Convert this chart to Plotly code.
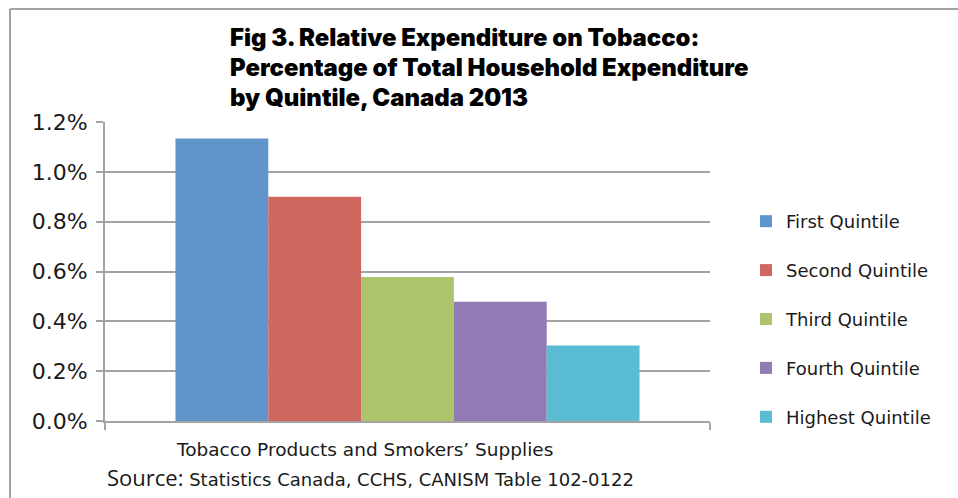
import plotly.graph_objects as go

categories = ["Tobacco Products and Smokers\u2019 Supplies"]
series_names = ["First Quintile", "Second Quintile", "Third Quintile", "Fourth Quintile", "Highest Quintile"]
series_values = [0.01134, 0.00900, 0.00578, 0.00479, 0.00303]
colors = ["#6095CB", "#CD6760", "#ADC46D", "#917BB4", "#59BCD3"]
y_ticks = [0, 0.002, 0.004, 0.006, 0.008, 0.010, 0.012]
y_ticklabels = ["0.0%", "0.2%", "0.4%", "0.6%", "0.8%", "1.0%", "1.2%"]

W, H = 958, 498
L, T = 105, 122
R = W - 710
B = H - 421
pw, ph = W - L - R, H - T - B

def px_x(sx):
    return (sx - L) / pw

def px_y(sy):
    return (H - B - sy) / ph

fig = go.Figure()
for i, (name, val) in enumerate(zip(series_names, series_values)):
    fig.add_trace(go.Bar(
        x=categories, y=[val], name=name,
        marker=dict(color=colors[i], line=dict(width=0)),
        legendgroup=name,
    ))

grey = "#A3A3A3"
txt = "#1a1a1a"
fig.update_layout(
    width=W, height=H,
    margin=dict(l=L, r=R, t=T, b=B, pad=0),
    paper_bgcolor="white", plot_bgcolor="white",
    barmode="group", bargap=0.233, bargroupgap=0,
    font=dict(family="DejaVu Sans", color=txt),
    showlegend=True,
    legend=dict(x=px_x(746), y=px_y(203), xanchor="left", yanchor="top",
                font=dict(family="DejaVu Sans", size=18, color=txt),
                tracegroupgap=22.5, bgcolor="rgba(0,0,0,0)"),
    xaxis=dict(showline=True, linecolor=grey, linewidth=2,
               ticks="outside", tickson="boundaries", ticklen=7, tickcolor=grey, tickwidth=2,
               showticklabels=False,
               showgrid=False, fixedrange=True),
    yaxis=dict(range=[0, 0.012], tickvals=y_ticks, ticktext=y_ticklabels,
               showline=True, linecolor=grey, linewidth=2,
               ticks="outside", ticklen=7, tickcolor=grey, tickwidth=2,
               showgrid=True, gridcolor=grey, gridwidth=2,
               tickfont=dict(family="DejaVu Sans", size=22, color=txt),
               ticklabelstandoff=4, zeroline=False, fixedrange=True),
)

# category label (sits left of the plot centre in the reference)
fig.add_annotation(
    text=categories[0], xref="paper", yref="paper", x=px_x(364), y=px_y(449),
    xanchor="center", yanchor="middle", showarrow=False,
    font=dict(family="DejaVu Sans", size=18.5, color=txt),
)

title_lines = ["Fig 3. Relative Expenditure on Tobacco:",
               "Percentage of Total Household Expenditure",
               "by Quintile, Canada 2013"]
title_centers = [38, 68, 97]
for line, cy in zip(title_lines, title_centers):
    fig.add_annotation(
        text=line, xref="paper", yref="paper", x=px_x(228), y=px_y(cy),
        xanchor="left", yanchor="middle", align="left", showarrow=False,
        font=dict(family="Inter", size=23.9, color="#000000", weight=900),
    )

fig.add_annotation(
    text="<span style='font-family:Open Sans;font-size:22px'>Source:</span> Statistics Canada, CCHS, CANISM Table 102-0122",
    xref="paper", yref="paper", x=px_x(105), y=px_y(477), xanchor="left", yanchor="middle",
    align="left", showarrow=False,
    font=dict(family="DejaVu Sans", size=18, color=txt),
)

# outer frame lines (top and left)
fig.add_shape(type="line", xref="paper", yref="paper",
              x0=px_x(10), x1=px_x(970), y0=px_y(9), y1=px_y(9),
              line=dict(color=grey, width=2))
fig.add_shape(type="line", xref="paper", yref="paper",
              x0=px_x(10), x1=px_x(10), y0=px_y(9), y1=px_y(510),
              line=dict(color=grey, width=2))

fig.write_html(
    "out.html",
    config={"displayModeBar": False, "staticPlot": True},
    post_script=("document.documentElement.style.margin='0';"
                 "document.body.style.margin='0';"
                 "document.body.style.overflow='hidden';"
                 "document.documentElement.style.overflow='hidden';"),
)
